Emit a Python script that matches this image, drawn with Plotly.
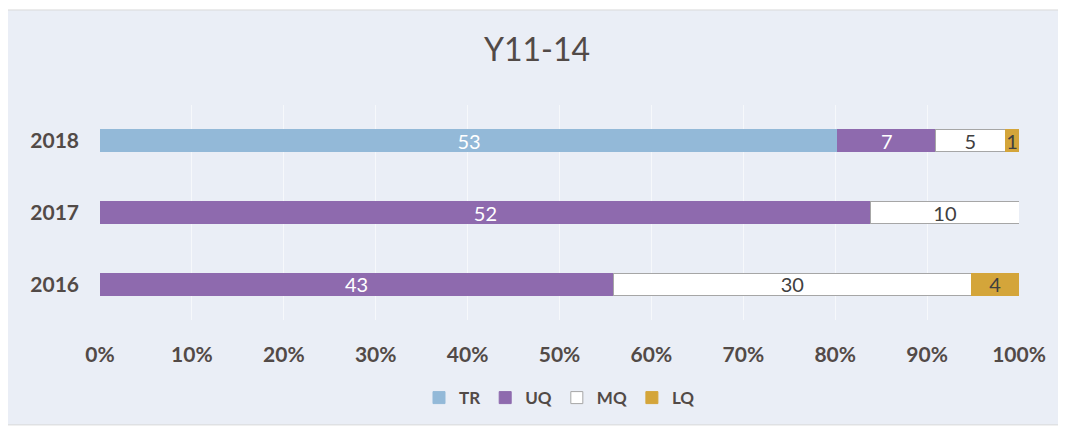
import plotly.graph_objects as go

years = ["2016", "2017", "2018"]
tr = [None, None, 53]
uq = [43, 52, 7]
mq = [30, 10, 5]
lq = [4, None, 1]

series = [
    ("TR", tr, "#93b9d8", "#93b9d8", "white"),
    ("UQ", uq, "#8e6aae", "#8e6aae", "white"),
    ("MQ", mq, "#ffffff", "#a6a6a6", "#404040"),
    ("LQ", lq, "#d4a53a", "#d4a53a", "#404040"),
]

fig = go.Figure()
for name, vals, col, edge, tcol in series:
    fig.add_trace(go.Bar(
        name=name,
        y=years,
        x=vals,
        orientation="h",
        marker=dict(color=col, line=dict(color=edge, width=1)),
        text=vals,
        textposition="inside",
        textangle=0,
        constraintext="none",
        insidetextanchor="middle",
        textfont=dict(color=tcol, size=20, family="Lato"),
        cliponaxis=False,
    ))

# page has an 8px body margin, so the figure is sized to fit the window
fig.update_layout(
    barmode="stack",
    barnorm="percent",
    bargap=0.69,
    width=1058,
    height=421,
    margin=dict(l=92, r=47, t=97, b=109),
    paper_bgcolor="white",
    plot_bgcolor="rgba(0,0,0,0)",
    font=dict(family="Lato", color="#524a47", size=18),
    title=dict(text="Y11-14", x=0.5, xanchor="center", y=1 - 42 / 421, yanchor="middle",
               font=dict(size=32, color="#524a47")),
    legend=dict(orientation="h", x=0.5, xanchor="center", y=-0.363, yanchor="middle",
                font=dict(size=17, color="#524a47", weight="bold"), traceorder="normal",
                itemwidth=30, bgcolor="rgba(0,0,0,0)"),
    shapes=[dict(type="rect", xref="paper", yref="paper",
                 x0=-0.103, x1=1.048, y0=-0.488, y1=1.442,
                 fillcolor="#eaeef6", line=dict(color="#d9d9d9", width=1),
                 layer="below")],
)
fig.update_xaxes(range=[0, 100], dtick=10, ticksuffix="%", showgrid=True,
                 gridcolor="#f6f8fb", gridwidth=1, zeroline=False, automargin=False,
                 ticks="", ticklabelstandoff=20,
                 tickfont=dict(size=21, weight="bold", color="#524a47"))
fig.update_yaxes(showgrid=False, ticks="", ticklabelstandoff=20, automargin=False,
                 tickfont=dict(size=21, weight="bold", color="#524a47"))

fig.write_html("out.html")
